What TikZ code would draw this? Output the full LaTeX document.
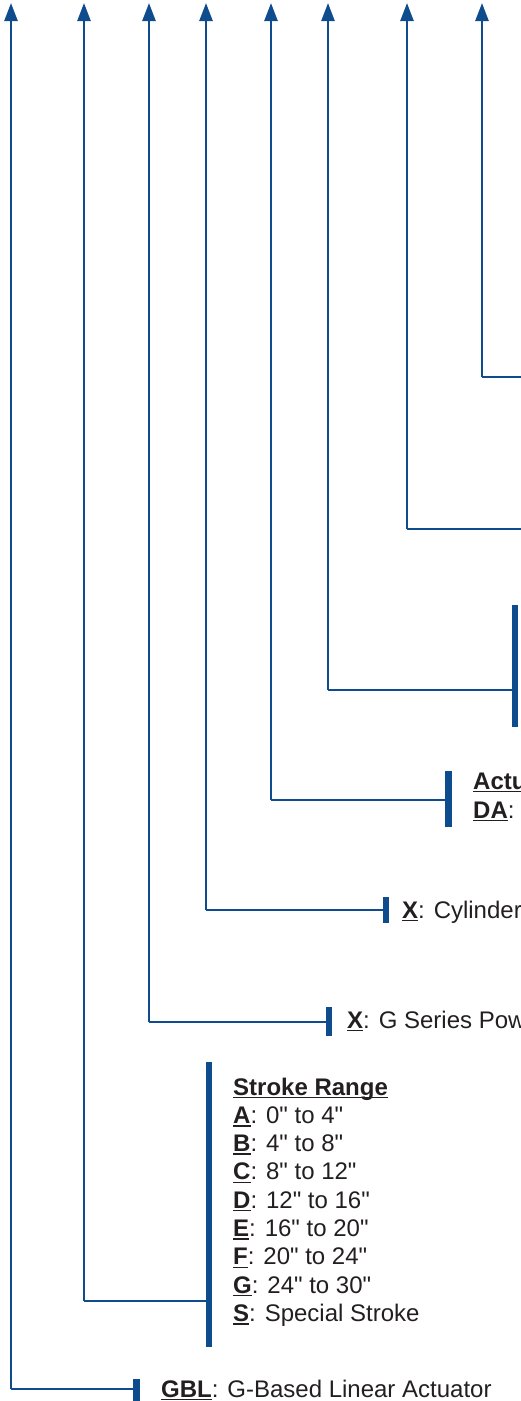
\documentclass[tikz,border=0pt]{standalone}
\usepackage{fontspec}
\setmainfont{Liberation Sans}
\usetikzlibrary{arrows.meta}
\definecolor{cblue}{RGB}{14,76,142}
\definecolor{ctext}{RGB}{35,31,32}
\newcommand\ulbox[1]{\setbox0=\hbox{#1}\rlap{\rule[-3.2pt]{\wd0}{1.4pt}}\box0}
\newcommand\key[1]{\ulbox{\textbf{#1}}}
\newcommand\inch{\XeTeXglyph\XeTeXcharglyph"22\relax}
\begin{document}
\begin{tikzpicture}[x=1pt,y=-1pt,
  conn/.style={draw=cblue,line width=2.5pt},
  up/.style={conn,-{Triangle[length=18pt,width=13pt]}},
  bar/.style={draw=cblue,line width=6.5pt},
  lbl/.style={anchor=base west,inner sep=0pt,text=ctext,font=\fontsize{24}{28}\selectfont}]
\useasboundingbox (0,0) rectangle (521,1401);
% arrow tips
\foreach \n/\x in {1/11,2/84,3/149,4/206,5/271,6/328,7/407,8/482}
  \coordinate (t\n) at (\x,3);
% corners
\coordinate (c1) at (11,1389);
\coordinate (c2) at (84,1301);
\coordinate (c3) at (149,1022);
\coordinate (c4) at (206,910);
\coordinate (c5) at (271,800);
\coordinate (c6) at (328,690);
\coordinate (c7) at (407,529);
\coordinate (c8) at (482,377);
% bar centres / ends
\coordinate (b1) at (136.5,1389);
\coordinate (b1a) at (136.5,1379);
\coordinate (b1b) at (136.5,1405);
\coordinate (b2) at (209,1301);
\coordinate (b2a) at (209,1062);
\coordinate (b2b) at (209,1347);
\coordinate (b3) at (329,1022);
\coordinate (b3a) at (329,1007);
\coordinate (b3b) at (329,1036);
\coordinate (b4) at (386,910);
\coordinate (b4a) at (386,897);
\coordinate (b4b) at (386,923);
\coordinate (b5) at (448.5,800);
\coordinate (b5a) at (448.5,771);
\coordinate (b5b) at (448.5,827);
\coordinate (b6) at (515,690);
\coordinate (b6a) at (515,605);
\coordinate (b6b) at (515,727);
\coordinate (e7) at (521,529);
\coordinate (e8) at (521,377);
% connectors
\foreach \n in {1,...,8} \draw[up] (c\n) -- (t\n);
\foreach \n in {1,...,6} \draw[conn] (c\n) -- (b\n);
\draw[conn] (c7) -- (e7);
\draw[conn] (c8) -- (e8);
\foreach \n in {1,...,6} \draw[bar] (b\n a) -- (b\n b);
% labels
\node[lbl] (gbl) at (161,1397) {\key{GBL}: G-Based Linear Actuator};
\node[lbl] (sr) at (233,1095) {\key{Stroke Range}};
\node[lbl] (sa) at (233,1123.3) {\key{A}: 0\inch{} to 4\inch};
\node[lbl] (sb) at (233,1151.6) {\key{B}: 4\inch{} to 8\inch};
\node[lbl] (sc) at (233,1179.9) {\key{C}: 8\inch{} to 12\inch};
\node[lbl] (sd) at (233,1208.2) {\key{D}: 12\inch{} to 16\inch};
\node[lbl] (se) at (233,1236.5) {\key{E}: 16\inch{} to 20\inch};
\node[lbl] (sf) at (233,1264.8) {\key{F}: 20\inch{} to 24\inch};
\node[lbl] (sg) at (233,1293.1) {\key{G}: 24\inch{} to 30\inch};
\node[lbl] (ss) at (233,1321.4) {\key{S}: Special Stroke};
\node[lbl] (gs) at (347,1028) {\key{X}: G Series Pow};
\node[lbl] (cy) at (402,918) {\key{X}: Cylinder};
\node[lbl] (act) at (473,789) {\key{Actu}};
\node[lbl] (da) at (473,818) {\key{DA}:};
\end{tikzpicture}
\end{document}
